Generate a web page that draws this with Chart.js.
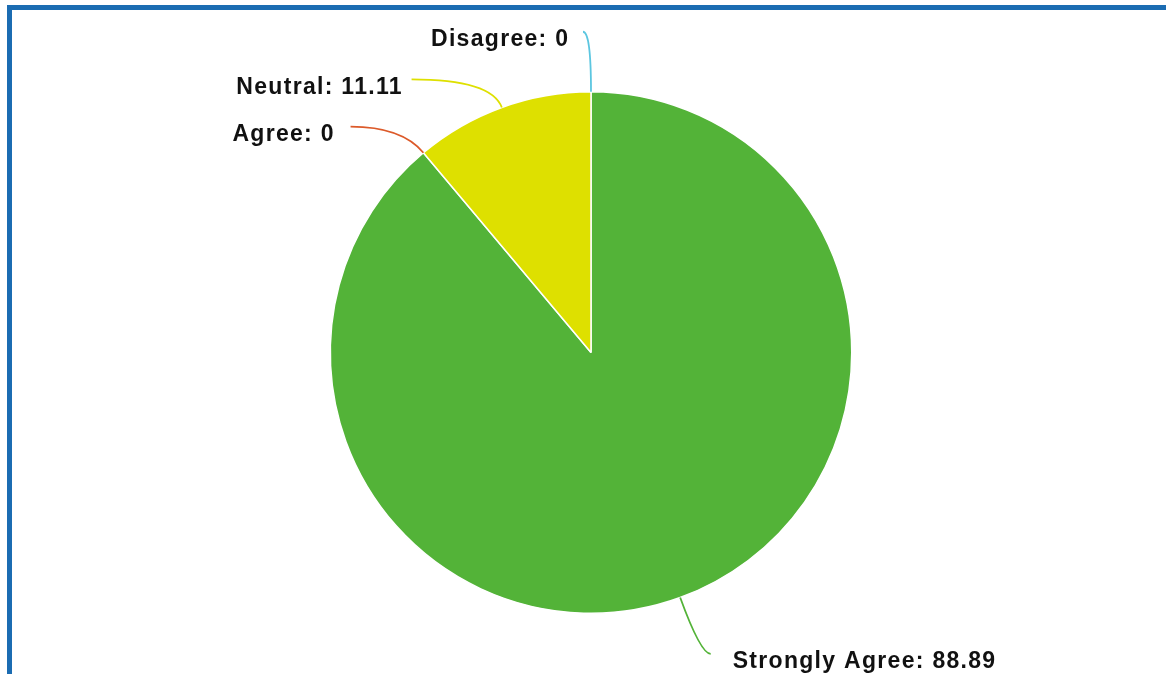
<!DOCTYPE html>
<html>
<head>
<meta charset="utf-8">
<script src="https://cdn.jsdelivr.net/npm/chart.js@4/dist/chart.umd.min.js"></script>
<style>
  body { margin: 0; background: #fff; }
  #wrap { position: relative; width: 1166px; height: 674px; overflow: hidden; }
  #frame { position: absolute; left: 7px; top: 5px; right: 0; bottom: 0;
           border-top: 5px solid #1b6cb2; border-left: 5px solid #1b6cb2; }
  canvas { position: absolute; left: 0; top: 0; }
</style>
</head>
<body>
<div id="wrap">
  <div id="frame"></div>
  <canvas id="myChart"></canvas>
</div>
<script>
// Survey answers (percent)
const answers = ['Strongly Agree', 'Agree', 'Neutral', 'Disagree']
const shares = [88.89, 0, 11.11, 0]
const sliceColors = ['#53b338', '#dc5a2a', '#dee000', '#5cc6e0']

// Labels with curved connector lines
const calloutPlugin = {
    id: 'callouts',
    afterDatasetsDraw(chart, args, opts) {
        const ctx = chart.ctx
        const meta = chart.getDatasetMeta(0)
        ctx.save()
        ctx.font = 'bold 23px "Liberation Sans", Arial, sans-serif'
        ctx.letterSpacing = '1.3px'
        ctx.textBaseline = 'middle'
        meta.data.forEach((arc, i) => {
            const p = arc.getProps(['x', 'y', 'startAngle', 'endAngle', 'outerRadius'], true)
            const mid = (p.startAngle + p.endAngle) / 2
            const dx = Math.cos(mid), dy = Math.sin(mid)
            const r = p.outerRadius
            const ext = opts.ext[i]
            const side = dx >= 0.0001 ? 1 : -1
            const ax = p.x + r * dx, ay = p.y + r * dy
            const ex = p.x + (r + ext) * dx, ey = p.y + (r + ext) * dy
            const fx = ex + side * opts.run[i], fy = ey

            ctx.strokeStyle = sliceColors[i]
            ctx.lineWidth = 1.8
            ctx.beginPath()
            ctx.moveTo(ax, ay)
            ctx.quadraticCurveTo(ex, ey, fx, fy)
            ctx.stroke()

            const txt = answers[i] + ': ' + shares[i]
            const w = ctx.measureText(txt).width - 1.3
            const tx = side > 0 ? fx + opts.gap[i] : fx - opts.gap[i] - w
            ctx.fillStyle = '#111'
            ctx.textAlign = 'left'
            ctx.fillText(txt, tx, fy + 8)
        })
        ctx.restore()
    }
}

const data = {
    labels: answers,
    datasets: [{
        data: shares,
        backgroundColor: sliceColors,
        borderColor: '#ffffff',
        borderWidth: 1.5
    }]
}

const config = {
    type: 'pie',
    data: data,
    options: {
        responsive: true,
        maintainAspectRatio: false,
        animation: false,
        layout: {
            padding: { top: 91, bottom: 60, left: 16, right: 0 }
        },
        plugins: {
            legend: { display: false },
            tooltip: { enabled: false },
            callouts: {
                ext: [60, 34, 30, 60],
                run: [10, 51, 80, 8],
                gap: [22, 17, 10, 15]
            }
        }
    },
    plugins: [calloutPlugin]
}

const ctx = document.getElementById('myChart').getContext('2d')
new Chart(ctx, config)
</script>
</body>
</html>
